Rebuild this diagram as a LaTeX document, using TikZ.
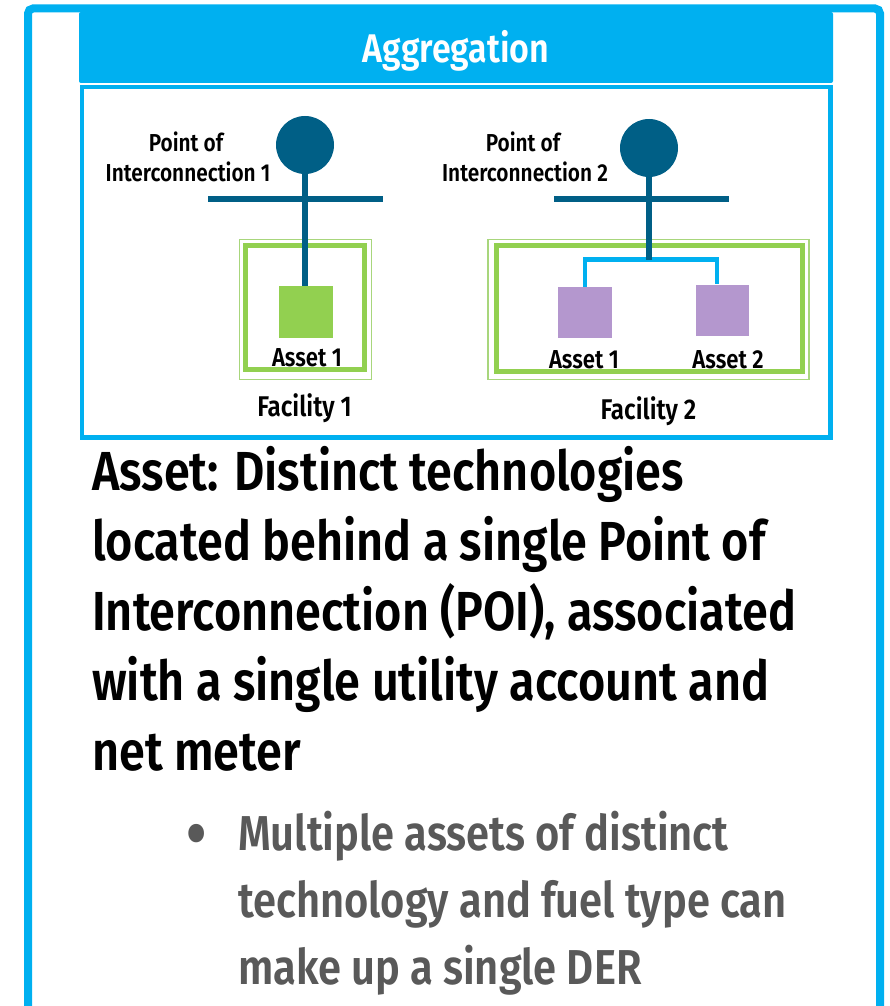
\documentclass[tikz,border=0pt]{standalone}
\usepackage{fontspec}
\setmainfont{Fira Sans SemiBold}[FakeStretch=0.85]
\definecolor{frameblue}{HTML}{00B0F0}
\definecolor{poiblue}{HTML}{005F86}
\definecolor{facgreen}{HTML}{92D050}
\definecolor{facpale}{HTML}{A8D67C}
\definecolor{assetpurple}{HTML}{B497CE}
\definecolor{bodygray}{HTML}{595959}
\begin{document}
\begin{tikzpicture}[x=1pt,y=-1pt,
  titlebar/.style={fill=frameblue, draw=none, rounded corners=2pt, inner sep=0pt},
  titletext/.style={text=white, inner sep=0pt, font=\fontsize{40}{44}\selectfont},
  panel/.style={draw=frameblue, line width=4.5pt, fill=white, inner sep=0pt},
  poi/.style={circle, fill=poiblue, draw=none, inner sep=0pt, minimum size=58pt},
  bus/.style={draw=poiblue, line width=5.5pt},
  feeder/.style={draw=poiblue, line width=6pt},
  branch/.style={draw=frameblue, line width=4.5pt},
  facouter/.style={draw=facpale, line width=1.8pt, inner sep=0pt},
  facinner/.style={draw=facgreen, line width=5pt, inner sep=0pt},
  greenasset/.style={fill=facgreen, draw=none, inner sep=0pt},
  purpleasset/.style={fill=assetpurple, draw=none, inner sep=0pt},
  lbl/.style={inner sep=0pt, anchor=base, font=\fontsize{24.5}{28}\selectfont},
  assetlbl/.style={inner sep=0pt, anchor=base, font=\fontsize{26}{30}\selectfont},
  faclbl/.style={inner sep=0pt, anchor=base, font=\fontsize{28.5}{32}\selectfont},
  bodyline/.style={inner sep=0pt, anchor=base west, font=\fontsize{55}{70}\selectfont},
  bulletline/.style={inner sep=0pt, anchor=base west, text=bodygray, font=\fontsize{49}{67}\selectfont},
  bulletmark/.style={inner sep=0pt, anchor=center, text=bodygray, font=\fontsize{70}{70}\selectfont}
]
\useasboundingbox (0,0) rectangle (889,1006);
\fill[white] (0,0) rectangle (889,1006);

% outer frame, open at the bottom
\draw[frameblue, line width=8pt, rounded corners=5pt] (28,1015) -- (28,8.5) -- (880,8.5) -- (880,1015);

% heading bar
\node[titlebar, minimum width=754pt, minimum height=71pt] (title) at (456,47.5) {};
\node[titletext, anchor=base] (titlelabel) at (456,63) {Aggregation};

% diagram panel
\node[panel, minimum width=748.5pt, minimum height=350.5pt] (panel) at (456.25,262.25) {};

% facility frames
\node[facouter, minimum width=132pt, minimum height=140pt] (fac1out) at (305.5,309.5) {};
\node[facinner, minimum width=119pt, minimum height=124pt] (fac1) at (305,307.5) {};
\node[facouter, minimum width=321pt, minimum height=140pt] (fac2out) at (648.5,309.5) {};
\node[facinner, minimum width=306pt, minimum height=126pt] (fac2) at (649.5,308.5) {};

% assets
\node[greenasset, minimum width=54pt, minimum height=52pt] (a11) at (306,312) {};
\node[purpleasset, minimum width=54pt, minimum height=51pt] (a21) at (585,312.5) {};
\node[purpleasset, minimum width=53pt, minimum height=51pt] (a22) at (722.5,310.5) {};

% points of interconnection
\node[poi] (poi1) at (305,145) {};
\node[poi] (poi2) at (649,148) {};
\coordinate (bus1w) at (208,199);
\coordinate (bus1e) at (383,199);
\coordinate (bus2w) at (554,199);
\coordinate (bus2e) at (729,199);
\coordinate (tap2) at (649,259.5);
\coordinate (a22top) at (717,284);

\draw[bus] (bus1w) -- (bus1e);
\draw[bus] (bus2w) -- (bus2e);
\draw[feeder] (poi1.south) -- (poi1.south |- a11.north);
\draw[branch] (a21.north) |- (tap2) -| (a22top);
\draw[feeder] (poi2.south) -- (tap2);

% diagram labels
\node[lbl] (poi1a) at (186,151.5) {Point of};
\node[lbl] (poi1b) at (188,181.5) {Interconnection 1};
\node[lbl] (poi2a) at (523,151.5) {Point of};
\node[lbl] (poi2b) at (525,181.5) {Interconnection 2};
\node[assetlbl] (l11) at (307,366) {Asset 1};
\node[assetlbl] (l21) at (584,368) {Asset 1};
\node[assetlbl] (l22) at (728,368) {Asset 2};
\node[faclbl] (lf1) at (304.5,416.5) {Facility 1};
\node[faclbl] (lf2) at (648.5,419) {Facility 2};

% definition text
\node[bodyline] (d1) at (92,490) {Asset: Distinct technologies};
\node[bodyline] (d2) at (92,560) {located behind a single Point of};
\node[bodyline] (d3) at (92,630) {Interconnection (POI), associated};
\node[bodyline] (d4) at (92,700) {with a single utility account and};
\node[bodyline] (d5) at (92,770) {net meter};

% bullet point
\node[bulletmark] (dot) at (197,841) {•};
\node[bulletline] (b1) at (238,850) {Multiple assets of distinct};
\node[bulletline] (b2) at (238,917) {technology and fuel type can};
\node[bulletline] (b3) at (238,984) {make up a single DER};
\end{tikzpicture}
\end{document}
